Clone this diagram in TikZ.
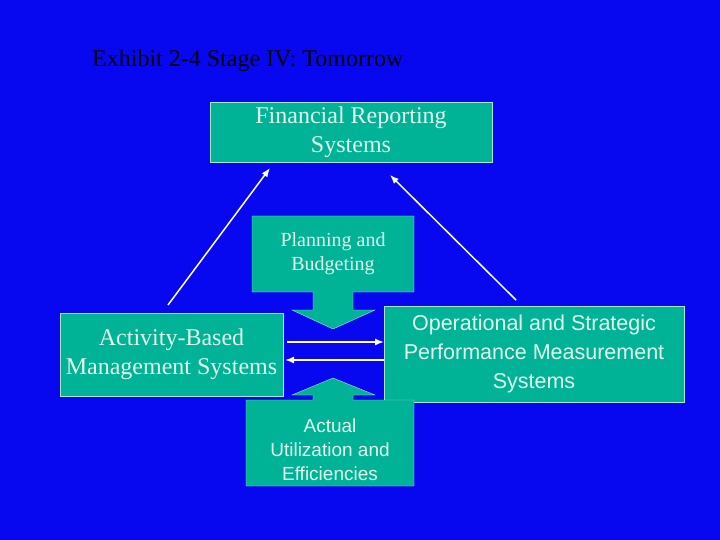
\documentclass[tikz,border=0pt]{standalone}
\usepackage{fontspec}
\setmainfont{Liberation Serif}
\newfontfamily\arialfont{Liberation Sans}
\usetikzlibrary{arrows.meta}
\definecolor{slideblue}{RGB}{8,8,240}
\definecolor{boxteal}{RGB}{0,178,150}
\definecolor{boxline}{RGB}{170,230,210}
\definecolor{textpale}{RGB}{225,250,235}
\tikzset{
	sysbox/.style={draw=boxline,fill=boxteal,text=textpale,align=center,inner sep=0pt},
	flow/.style={draw=white,line width=1.5pt,-{Latex[length=9pt,width=7pt]}},
}
\begin{document}
\begin{tikzpicture}[x=1pt,y=-1pt]
	\fill[slideblue] (0,0) rectangle (720,540);
	\useasboundingbox (0,0) rectangle (720,540);

	\node[anchor=west,inner sep=0pt,font=\fontsize{24}{28}\selectfont] (title) at (92,61) {Exhibit 2-4 Stage IV: Tomorrow};

	% boxes
	\node[sysbox,minimum width=282,minimum height=60,font=\fontsize{24}{29}\selectfont] (frs) at (351,132) {Financial Reporting\\Systems};
	\node[sysbox,minimum width=223,minimum height=83,font=\fontsize{24}{29}\selectfont] (abm) at (171.5,354.5) {Activity-Based\\Management Systems};
	\node[sysbox,minimum width=300,minimum height=96,font=\arialfont\fontsize{21.5}{29}\selectfont] (ospm) at (534,354) {Operational and Strategic\\Performance Measurement\\Systems};

	% callouts
	\draw[boxline,fill=boxteal] (252,216) -- (414,216) -- (414,292) -- (353,292) -- (353,310) -- (375,310)
		-- (333,329) -- (292,310) -- (313,310) -- (313,292) -- (252,292) -- cycle;
	\node[text=textpale,align=center,font=\fontsize{20}{24}\selectfont] (plan) at (333,254) {Planning and\\Budgeting};
	\draw[boxline,fill=boxteal] (246,486) -- (414,486) -- (414,400) -- (353,400) -- (353,395) -- (375,395)
		-- (333,378) -- (292,395) -- (313,395) -- (313,400) -- (246,400) -- cycle;
	\node[text=textpale,align=center,font=\arialfont\fontsize{19}{24}\selectfont] (actual) at (330,450) {Actual\\Utilization and\\Efficiencies};

	% connectors
	\coordinate (abmtop) at (168,305);
	\coordinate (ospmtop) at (516,300);
	\coordinate (frsleft) at (270,168);
	\coordinate (frsright) at (390,175);
	\coordinate (abmout) at (287,342);
	\coordinate (ospmin) at (384,342);
	\coordinate (ospmout) at (384,360);
	\coordinate (abmin) at (285,360);
	\draw[flow] (abmtop) -- (frsleft);
	\draw[flow] (ospmtop) -- (frsright);
	\draw[flow] (abmout) -- (ospmin);
	\draw[flow] (ospmout) -- (abmin);
\end{tikzpicture}
\end{document}
